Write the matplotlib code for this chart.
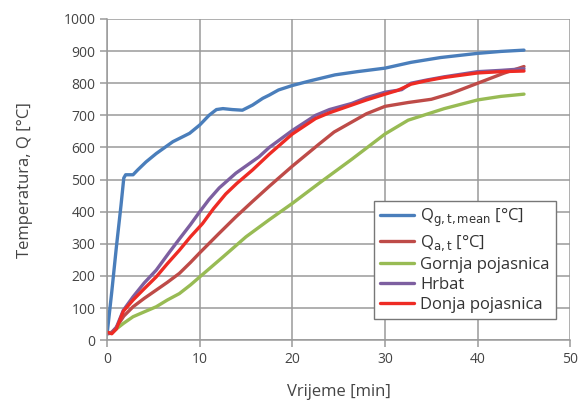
import matplotlib.pyplot as plt

plt.rcParams['font.family'] = ['Open Sans', 'DejaVu Sans']

# =======================
# DATA
# =======================

t_mean = [0, 0.5, 1, 1.5, 1.8, 2.0, 2.8, 3.3, 4.2, 5.3, 7.1, 8.9, 10, 11.0, 11.8, 12.5,
          13.5, 14.6, 15.7, 16.8, 17.5, 18.5, 20, 22, 24.6, 27, 30, 32.8, 36, 40, 42.5, 45]
q_mean = [20, 150, 290, 420, 505, 515, 515, 530, 555, 581, 618, 644, 670, 700, 718, 721,
          718, 716, 732, 753, 763, 779, 793, 808, 826, 836, 847, 865, 880, 893, 899, 903]

t_at = [0, 0.5, 1, 1.8, 2.8, 4, 5.3, 6.5, 7.8, 9, 10, 12, 13.9, 15.7, 17.5, 20,
        22.9, 24.5, 26.4, 28, 30, 32.5, 35, 37.1, 40, 42.8, 45]
q_at = [20, 25, 40, 75, 104, 130, 156, 180, 208, 242, 272, 330, 384, 432, 479, 542,
        611, 648, 679, 705, 728, 740, 750, 768, 800, 831, 852]

t_gornja = [0, 0.5, 1, 1.75, 2.8, 4, 5.3, 6.5, 7.8, 9, 10, 12.5, 15, 17.5, 20,
            22.9, 26.4, 30, 32.5, 36.4, 40, 42.5, 45]
q_gornja = [20, 22, 35, 52, 73, 88, 104, 125, 145, 172, 197, 259, 322, 375, 426,
            489, 563, 642, 685, 721, 748, 759, 766]

t_hrbat = [0, 0.5, 1, 1.75, 2.8, 4, 5.3, 6.75, 7.8, 9, 10, 11, 12.1, 13.9, 16.4,
           17.5, 20, 22.5, 24, 26.4, 28, 30, 31.8, 32.8, 34.5, 36.4, 40, 42.5, 45]
q_hrbat = [20, 22, 40, 93, 135, 178, 218, 275, 315, 360, 400, 438, 474, 520, 571,
           600, 653, 700, 718, 737, 755, 772, 780, 800, 810, 820, 836, 840, 845]

t_donja = [0, 0.5, 1, 1.75, 2.8, 4, 5.3, 6.5, 7.8, 9, 10.3, 11.5, 12.8, 14, 15.7,
           17.5, 20, 22.5, 24, 26.4, 28, 30, 31.4, 32.8, 34.5, 36.4, 40, 42.5, 45]
q_donja = [25, 20, 35, 90, 125, 160, 197, 238, 280, 322, 363, 410, 455, 488, 530,
           579, 642, 690, 708, 732, 748, 766, 778, 797, 808, 818, 832, 836, 838]

labels = [r'Q$_{\mathrm{g,t,mean}}$ [°C]', r'Q$_{\mathrm{a,t}}$ [°C]',
          'Gornja pojasnica', 'Hrbat', 'Donja pojasnica']
colors = ['#4a7ebb', '#be4b48', '#98bb54', '#7d5fa0', '#ee2b24']

# =======================
# PLOT
# =======================

fig = plt.figure(figsize=(5.79, 4.04), dpi=100)
ax = fig.add_axes([0.185, 0.158, 0.800, 0.795])

series = [(t_mean, q_mean), (t_at, q_at), (t_gornja, q_gornja),
          (t_hrbat, q_hrbat), (t_donja, q_donja)]
for (t, q), lab, col in zip(series, labels, colors):
    ax.plot(t, q, color=col, lw=2.4, label=lab, solid_capstyle='round')

ax.set_xlim(0, 50)
ax.set_ylim(0, 1000)
ax.set_xticks(range(0, 51, 10))
ax.set_yticks(range(0, 1001, 100))
ax.grid(True, color='#9a9a9a', lw=1.1)
ax.set_axisbelow(True)
for side in ['top', 'right']:
    ax.spines[side].set_visible(False)
for side in ['left', 'bottom']:
    ax.spines[side].set_color('#9a9a9a')
    ax.spines[side].set_linewidth(1.1)
ax.tick_params(colors='#9a9a9a', labelcolor='#444444', labelsize=10, length=5, width=1.1)

ax.set_xlabel('Vrijeme [min]', fontsize=12, color='#444444', labelpad=12)
ax.set_ylabel('Temperatura, Q [°C]', fontsize=12, color='#444444', labelpad=22)

leg = ax.legend(loc='lower right', bbox_to_anchor=(0.974, 0.19),
                bbox_transform=fig.transFigure, fontsize=12,
                fancybox=False, framealpha=1, edgecolor='#777777',
                handlelength=2.0, labelspacing=0.25, borderpad=0.35, handletextpad=0.4)
for txt in leg.get_texts():
    txt.set_color('#333333')

fig.savefig('out.png', dpi=100)
